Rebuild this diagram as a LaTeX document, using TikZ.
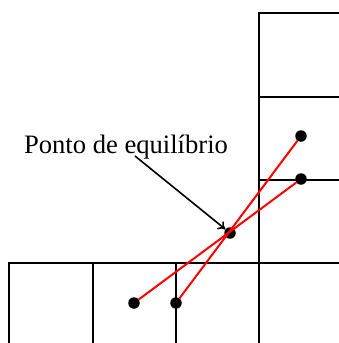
\documentclass[tikz,border=0pt]{standalone}
\usepackage{fontspec}
\setmainfont{Liberation Serif}
\usepackage{tikz}
\usetikzlibrary{arrows.meta}

\begin{document}
\begin{tikzpicture}[
  x=1pt, y=-1pt,
  grade/.style={line width=2pt, line cap=rect},
  pto/.style={circle, fill=black, inner sep=0pt, minimum size=11.5pt},
  reta/.style={red, line width=2pt},
  seta/.style={line width=1.6pt, -{To[length=7pt,width=10pt]}},
  rotulo/.style={font=\fontsize{26.6}{30}\selectfont, inner sep=0pt, anchor=base},
]
\useasboundingbox (0,0) rectangle (338,343);
% grade
\draw[grade] (338,13) -- (259,13) -- (259,343);
\draw[grade] (259,97) -- (338,97);
\draw[grade] (259,179.5) -- (338,179.5);
\draw[grade] (338,263) -- (9,263) -- (9,343);
\draw[grade] (93,263) -- (93,343);
\draw[grade] (176,263) -- (176,343);
% pontos
\node[pto] (a1) at (134,303) {};
\node[pto] (b1) at (176,303) {};
\node[pto] (a2) at (301,179) {};
\node[pto] (b2) at (301,136) {};
\node[pto] (eq) at (230,233) {};
\draw[reta] (a1) -- (a2);
\draw[reta] (b1) -- (b2);
% rotulo
\node[rotulo] (txt) at (126,153) {Ponto de equilíbrio};
\coordinate (ini) at (135,156);
\draw[seta] (ini) -- (eq);
\end{tikzpicture}
\end{document}
